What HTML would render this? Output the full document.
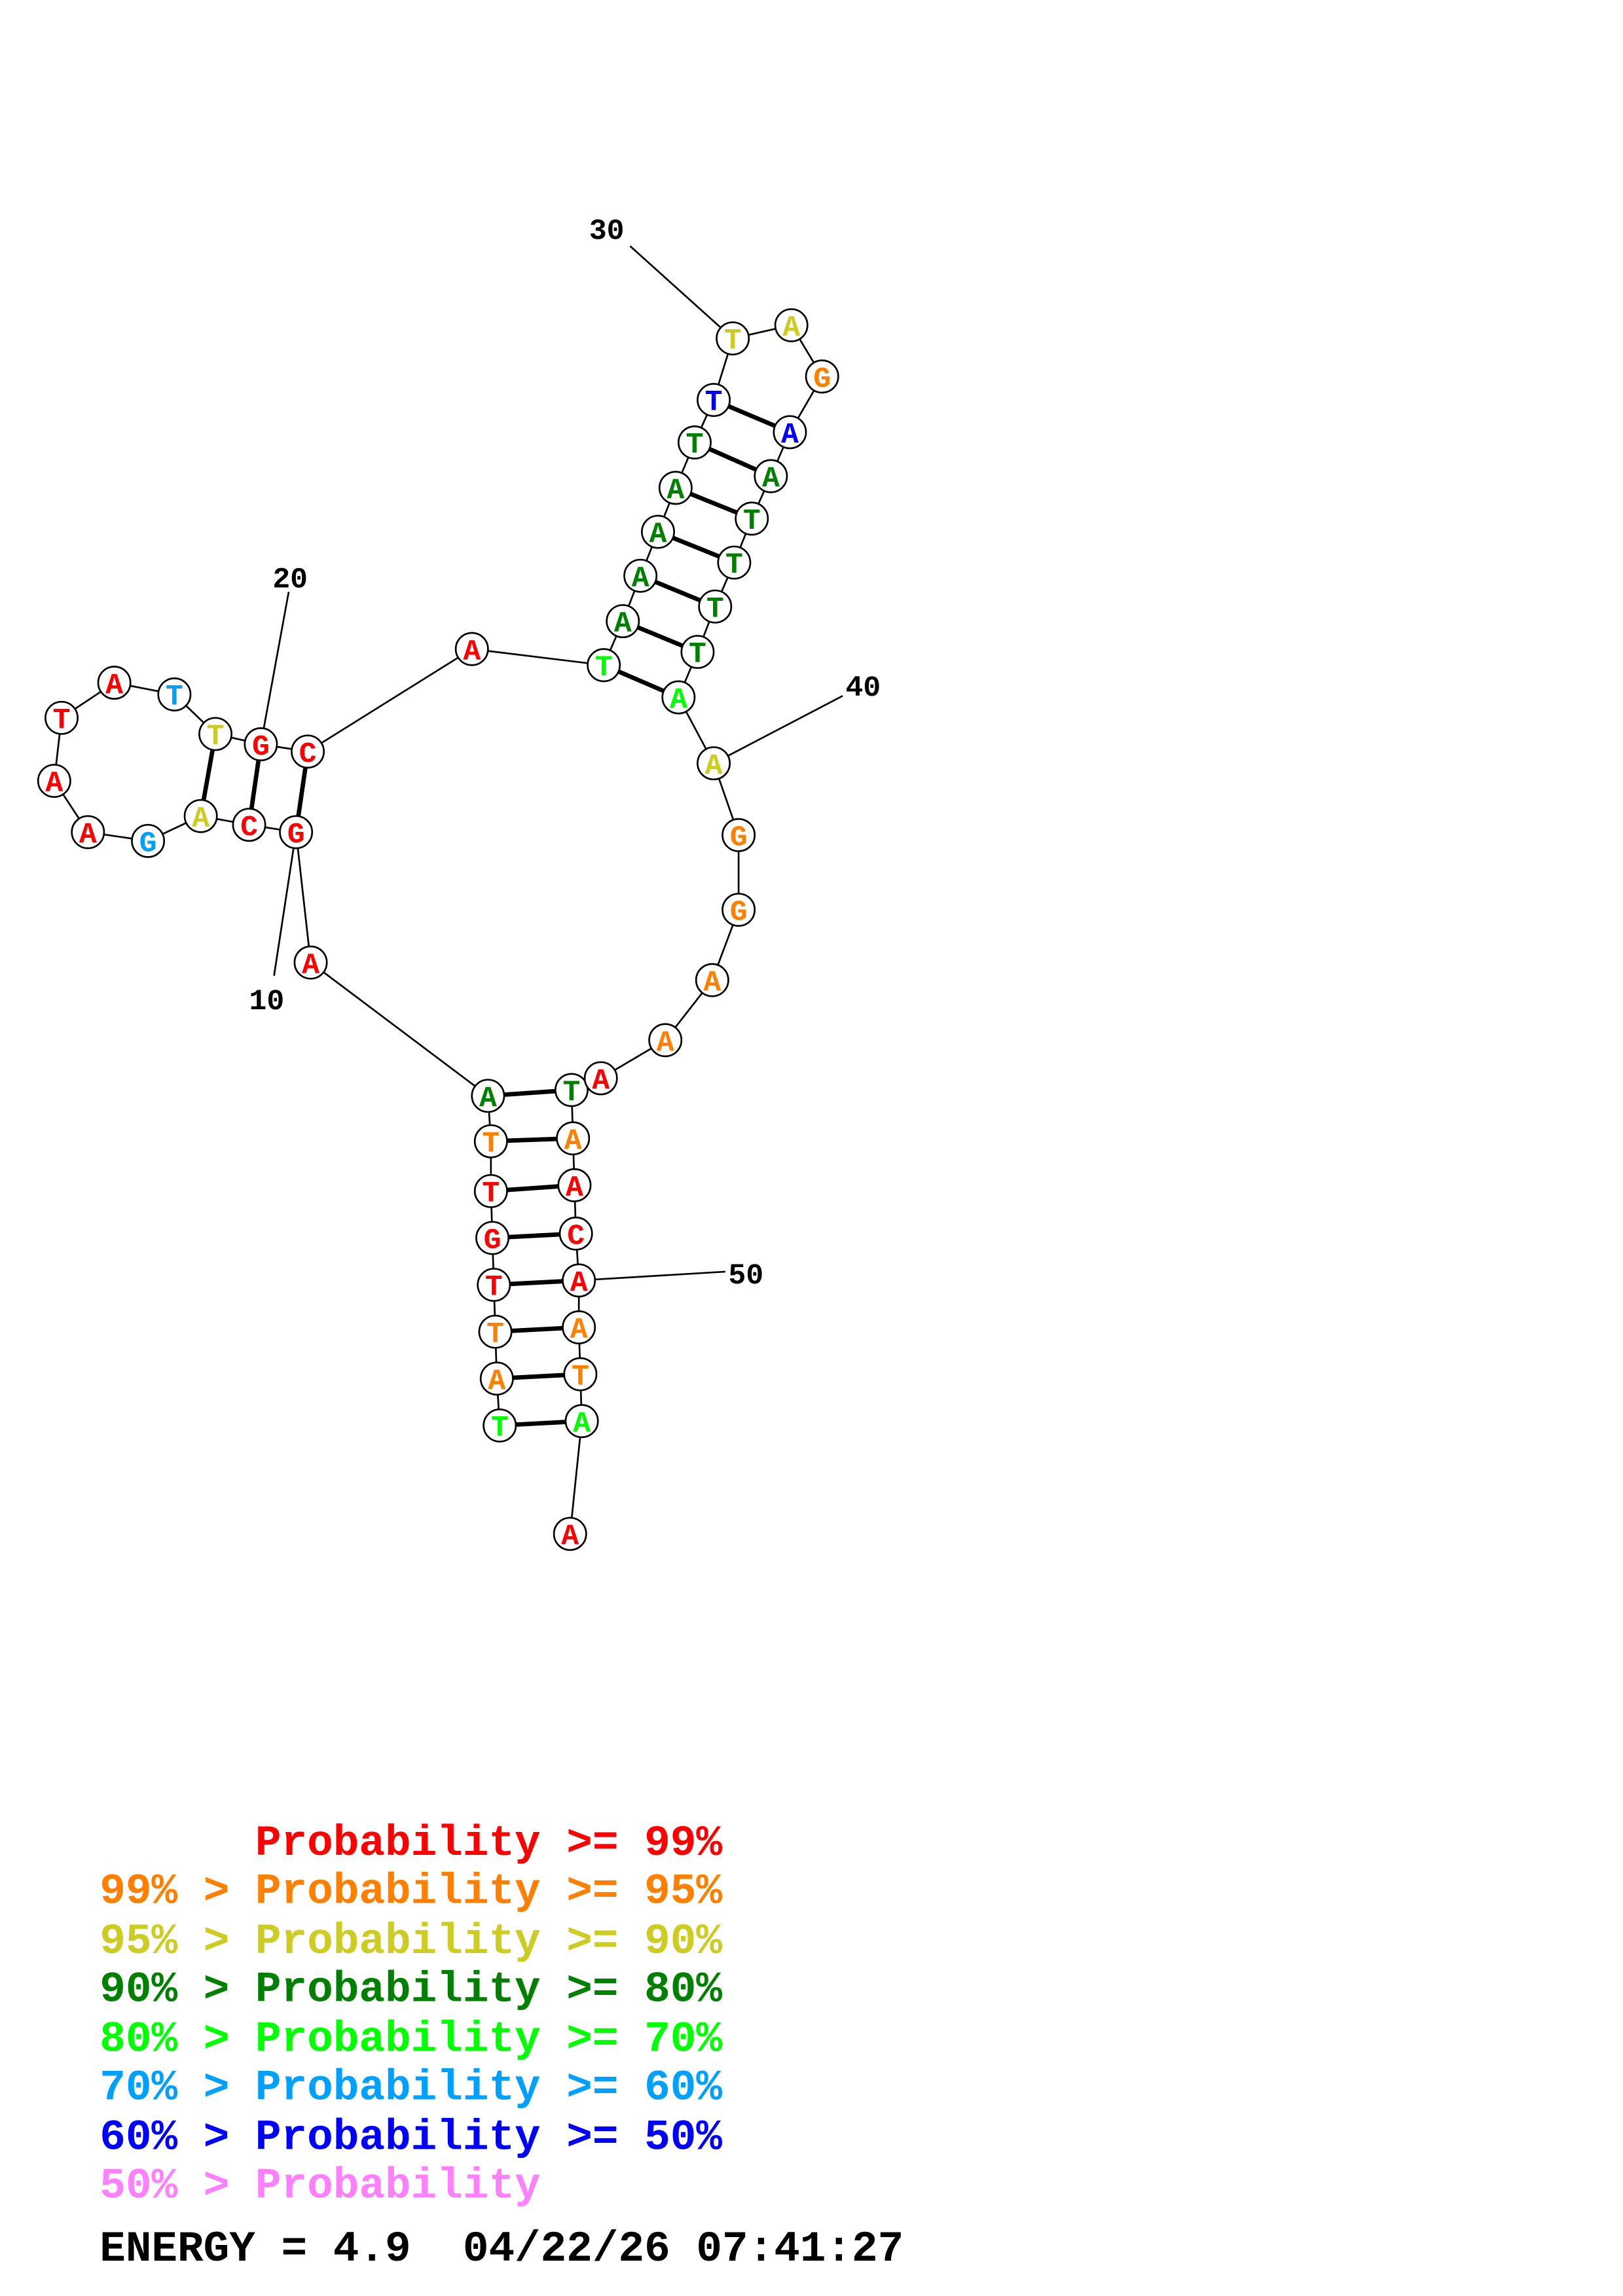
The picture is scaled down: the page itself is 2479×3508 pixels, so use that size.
<!DOCTYPE html>
<html><head><meta charset="utf-8"><style>html,body{margin:0;padding:0;background:#fff}svg{display:block}</style></head>
<body>
<svg xmlns="http://www.w3.org/2000/svg" width="2479" height="3508" viewBox="0 0 1107.5 1567.2">
<rect width="1107.5" height="1567.2" fill="#fff"/>
<g stroke="#000" stroke-width="1.2">
<line x1="430" y1="168" x2="500" y2="231"/>
<line x1="575" y1="475" x2="487" y2="521"/>
<line x1="495" y1="868" x2="395" y2="874"/>
<line x1="197" y1="404" x2="178" y2="508"/>
<line x1="187" y1="666" x2="202" y2="568"/>
<polyline fill="none" points="341,973 339,941 338,909 337,877 336,845 335,813 335,779 333,748 212,657 202,568 170,563 137,557 101,574 60,568 37,533 42,490 78,466 119,474 147,501 178,508 210,513 322,443 412,454 425,424 437,393 449,363 461,333 474,302 487,273 500,231 540,222 561,257 539,295 526,325 513,354 501,384 488,414 476,445 463,476 487,521 504,570 504,621 486,669 454,710 410,736 390,744 391,777 392,809 393,842 395,874 395,906 396,938 397,970 389,1047"/>
</g>
<g stroke="#000" stroke-width="3">
<line x1="341" y1="973" x2="397" y2="970"/><line x1="339" y1="941" x2="396" y2="938"/>
<line x1="338" y1="909" x2="395" y2="906"/><line x1="337" y1="877" x2="395" y2="874"/>
<line x1="336" y1="845" x2="393" y2="842"/><line x1="335" y1="813" x2="392" y2="809"/>
<line x1="335" y1="779" x2="391" y2="777"/><line x1="333" y1="748" x2="390" y2="744"/>
<line x1="202" y1="568" x2="210" y2="513"/><line x1="170" y1="563" x2="178" y2="508"/>
<line x1="137" y1="557" x2="147" y2="501"/>
<line x1="412" y1="454" x2="463" y2="476"/><line x1="425" y1="424" x2="476" y2="445"/>
<line x1="437" y1="393" x2="488" y2="414"/><line x1="449" y1="363" x2="501" y2="384"/>
<line x1="461" y1="333" x2="513" y2="354"/><line x1="474" y1="302" x2="526" y2="325"/>
<line x1="487" y1="273" x2="539" y2="295"/>
</g>
<g font-family="Liberation Mono, monospace" font-weight="bold" font-size="20" text-anchor="middle" stroke-width="1.2">
<g><circle cx="341" cy="973" r="11" fill="#fff" stroke="#000"/><text x="341" y="980" fill="#00ff00">T</text></g>
<g><circle cx="339" cy="941" r="11" fill="#fff" stroke="#000"/><text x="339" y="948" fill="#ff8000">A</text></g>
<g><circle cx="338" cy="909" r="11" fill="#fff" stroke="#000"/><text x="338" y="916" fill="#ff8000">T</text></g>
<g><circle cx="337" cy="877" r="11" fill="#fff" stroke="#000"/><text x="337" y="884" fill="#ff0000">T</text></g>
<g><circle cx="336" cy="845" r="11" fill="#fff" stroke="#000"/><text x="336" y="852" fill="#ff0000">G</text></g>
<g><circle cx="335" cy="813" r="11" fill="#fff" stroke="#000"/><text x="335" y="820" fill="#ff0000">T</text></g>
<g><circle cx="335" cy="779" r="11" fill="#fff" stroke="#000"/><text x="335" y="786" fill="#ff8000">T</text></g>
<g><circle cx="333" cy="748" r="11" fill="#fff" stroke="#000"/><text x="333" y="755" fill="#008000">A</text></g>
<g><circle cx="212" cy="657" r="11" fill="#fff" stroke="#000"/><text x="212" y="664" fill="#ff0000">A</text></g>
<g><circle cx="202" cy="568" r="11" fill="#fff" stroke="#000"/><text x="202" y="575" fill="#ff0000">G</text></g>
<g><circle cx="170" cy="563" r="11" fill="#fff" stroke="#000"/><text x="170" y="570" fill="#ff0000">C</text></g>
<g><circle cx="137" cy="557" r="11" fill="#fff" stroke="#000"/><text x="137" y="564" fill="#cccc22">A</text></g>
<g><circle cx="101" cy="574" r="11" fill="#fff" stroke="#000"/><text x="101" y="581" fill="#00a0ff">G</text></g>
<g><circle cx="60" cy="568" r="11" fill="#fff" stroke="#000"/><text x="60" y="575" fill="#ff0000">A</text></g>
<g><circle cx="37" cy="533" r="11" fill="#fff" stroke="#000"/><text x="37" y="540" fill="#ff0000">A</text></g>
<g><circle cx="42" cy="490" r="11" fill="#fff" stroke="#000"/><text x="42" y="497" fill="#ff0000">T</text></g>
<g><circle cx="78" cy="466" r="11" fill="#fff" stroke="#000"/><text x="78" y="473" fill="#ff0000">A</text></g>
<g><circle cx="119" cy="474" r="11" fill="#fff" stroke="#000"/><text x="119" y="481" fill="#00a0ff">T</text></g>
<g><circle cx="147" cy="501" r="11" fill="#fff" stroke="#000"/><text x="147" y="508" fill="#cccc22">T</text></g>
<g><circle cx="178" cy="508" r="11" fill="#fff" stroke="#000"/><text x="178" y="515" fill="#ff0000">G</text></g>
<g><circle cx="210" cy="513" r="11" fill="#fff" stroke="#000"/><text x="210" y="520" fill="#ff0000">C</text></g>
<g><circle cx="322" cy="443" r="11" fill="#fff" stroke="#000"/><text x="322" y="450" fill="#ff0000">A</text></g>
<g><circle cx="412" cy="454" r="11" fill="#fff" stroke="#000"/><text x="412" y="461" fill="#00ff00">T</text></g>
<g><circle cx="425" cy="424" r="11" fill="#fff" stroke="#000"/><text x="425" y="431" fill="#008000">A</text></g>
<g><circle cx="437" cy="393" r="11" fill="#fff" stroke="#000"/><text x="437" y="400" fill="#008000">A</text></g>
<g><circle cx="449" cy="363" r="11" fill="#fff" stroke="#000"/><text x="449" y="370" fill="#008000">A</text></g>
<g><circle cx="461" cy="333" r="11" fill="#fff" stroke="#000"/><text x="461" y="340" fill="#008000">A</text></g>
<g><circle cx="474" cy="302" r="11" fill="#fff" stroke="#000"/><text x="474" y="309" fill="#008000">T</text></g>
<g><circle cx="487" cy="273" r="11" fill="#fff" stroke="#000"/><text x="487" y="280" fill="#0000ff">T</text></g>
<g><circle cx="500" cy="231" r="11" fill="#fff" stroke="#000"/><text x="500" y="238" fill="#cccc22">T</text></g>
<g><circle cx="540" cy="222" r="11" fill="#fff" stroke="#000"/><text x="540" y="229" fill="#cccc22">A</text></g>
<g><circle cx="561" cy="257" r="11" fill="#fff" stroke="#000"/><text x="561" y="264" fill="#ff8000">G</text></g>
<g><circle cx="539" cy="295" r="11" fill="#fff" stroke="#000"/><text x="539" y="302" fill="#0000ff">A</text></g>
<g><circle cx="526" cy="325" r="11" fill="#fff" stroke="#000"/><text x="526" y="332" fill="#008000">A</text></g>
<g><circle cx="513" cy="354" r="11" fill="#fff" stroke="#000"/><text x="513" y="361" fill="#008000">T</text></g>
<g><circle cx="501" cy="384" r="11" fill="#fff" stroke="#000"/><text x="501" y="391" fill="#008000">T</text></g>
<g><circle cx="488" cy="414" r="11" fill="#fff" stroke="#000"/><text x="488" y="421" fill="#008000">T</text></g>
<g><circle cx="476" cy="445" r="11" fill="#fff" stroke="#000"/><text x="476" y="452" fill="#008000">T</text></g>
<g><circle cx="463" cy="476" r="11" fill="#fff" stroke="#000"/><text x="463" y="483" fill="#00ff00">A</text></g>
<g><circle cx="487" cy="521" r="11" fill="#fff" stroke="#000"/><text x="487" y="528" fill="#cccc22">A</text></g>
<g><circle cx="504" cy="570" r="11" fill="#fff" stroke="#000"/><text x="504" y="577" fill="#ff8000">G</text></g>
<g><circle cx="504" cy="621" r="11" fill="#fff" stroke="#000"/><text x="504" y="628" fill="#ff8000">G</text></g>
<g><circle cx="486" cy="669" r="11" fill="#fff" stroke="#000"/><text x="486" y="676" fill="#ff8000">A</text></g>
<g><circle cx="454" cy="710" r="11" fill="#fff" stroke="#000"/><text x="454" y="717" fill="#ff8000">A</text></g>
<g><circle cx="390" cy="744" r="11" fill="#fff" stroke="#000"/><text x="390" y="751" fill="#008000">T</text></g>
<g><circle cx="410" cy="736" r="11" fill="#fff" stroke="#000"/><text x="410" y="743" fill="#ff0000">A</text></g>
<g><circle cx="391" cy="777" r="11" fill="#fff" stroke="#000"/><text x="391" y="784" fill="#ff8000">A</text></g>
<g><circle cx="392" cy="809" r="11" fill="#fff" stroke="#000"/><text x="392" y="816" fill="#ff0000">A</text></g>
<g><circle cx="393" cy="842" r="11" fill="#fff" stroke="#000"/><text x="393" y="849" fill="#ff0000">C</text></g>
<g><circle cx="395" cy="874" r="11" fill="#fff" stroke="#000"/><text x="395" y="881" fill="#ff0000">A</text></g>
<g><circle cx="395" cy="906" r="11" fill="#fff" stroke="#000"/><text x="395" y="913" fill="#ff8000">A</text></g>
<g><circle cx="396" cy="938" r="11" fill="#fff" stroke="#000"/><text x="396" y="945" fill="#ff8000">T</text></g>
<g><circle cx="397" cy="970" r="11" fill="#fff" stroke="#000"/><text x="397" y="977" fill="#00ff00">A</text></g>
<g><circle cx="389" cy="1047" r="11" fill="#fff" stroke="#000"/><text x="389" y="1054" fill="#ff0000">A</text></g>
</g>
<g font-family="Liberation Mono, monospace" font-weight="bold" font-size="20" fill="#000" text-anchor="middle">
<text x="182" y="689">10</text>
<text x="198" y="401">20</text>
<text x="414" y="163">30</text>
<text x="589" y="475">40</text>
<text x="509" y="876">50</text>
</g>
<g font-family="Liberation Mono, monospace" font-weight="bold" font-size="29.5">
<text x="68" y="1266" fill="#ff0000">&#160;&#160;&#160;&#160;&#160;&#160;Probability &gt;= 99%</text>
<text x="68" y="1299" fill="#ff8000">99% &gt; Probability &gt;= 95%</text>
<text x="68" y="1333" fill="#cccc22">95% &gt; Probability &gt;= 90%</text>
<text x="68" y="1366" fill="#008000">90% &gt; Probability &gt;= 80%</text>
<text x="68" y="1400" fill="#00ff00">80% &gt; Probability &gt;= 70%</text>
<text x="68" y="1433" fill="#00a0ff">70% &gt; Probability &gt;= 60%</text>
<text x="68" y="1467" fill="#0000ff">60% &gt; Probability &gt;= 50%</text>
<text x="68" y="1500" fill="#ff80ff">50% &gt; Probability</text>
<text x="68" y="1543" fill="#000">ENERGY = 4.9&#160;&#160;04/22/26 07:41:27</text>
</g>
</svg>
</body></html>
